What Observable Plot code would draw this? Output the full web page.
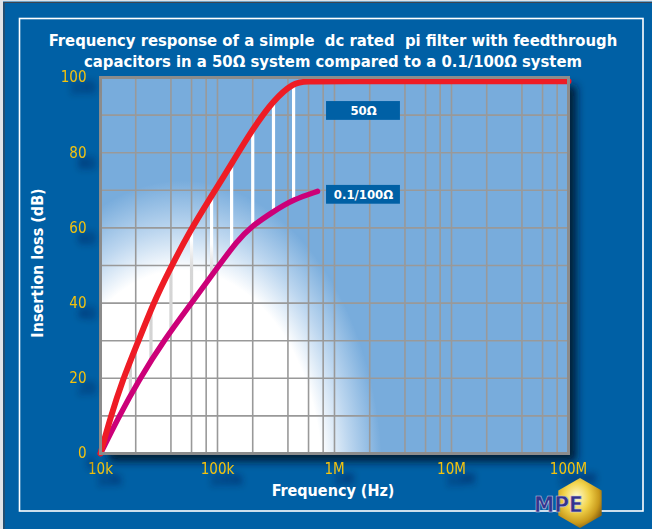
<!DOCTYPE html>
<html>
<head>
<meta charset="utf-8">
<script src="https://cdn.jsdelivr.net/npm/d3@7"></script>
<script src="https://cdn.jsdelivr.net/npm/@observablehq/plot@0.6"></script>
<style>
  html, body { margin: 0; padding: 0; background: #0060a5; }
  #wrap { position: relative; width: 652px; height: 529px; overflow: hidden; background: #0060a5;
          font-family: "DejaVu Sans Condensed", "DejaVu Sans", sans-serif; }
  #wrap > svg { position: absolute; left: 0; top: 0; }
  #deco { pointer-events: none; }
</style>
</head>
<body>
<div id="wrap"></div>
<script>
// ---------- data ----------
const titleLines = [
  "Frequency response of a simple  dc rated  pi filter with feedthrough",
  "capacitors in a 50\u03A9 system compared to a 0.1/100\u03A9 system"
];
const xTitle = "Frequency (Hz)";
const yTitle = "Insertion loss (dB)";

const xTicks = [1e4, 1e5, 1e6, 1e7, 1e8];
const xTickLabels = ["10k", "100k", "1M", "10M", "100M"];
const yTicks = [0, 20, 40, 60, 80, 100];
const xGrid = [2e4, 4e4, 6e4, 8e4, 1e5, 2e5, 4e5, 6e5, 8e5, 1e6, 2e6, 4e6, 6e6, 8e6, 1e7, 2e7, 4e7, 6e7, 8e7];
const yGrid = [10, 20, 30, 40, 50, 60, 70, 80, 90];

// 50 ohm system (red)
const freq50 = [1e4, 1.218e4, 1.542e4, 2.113e4, 2.838e4, 3.738e4, 5.878e4, 8.71e4, 1.344e5, 1.991e5, 3.01e5, 4.464e5, 5.65e5, 1e6, 1e7, 1e8];
const loss50 = [0, 9.6, 19.5, 30, 40, 47.8, 59.5, 68, 77.5, 86.2, 94, 98.6, 99, 99, 99, 99];

// 0.1/100 ohm system (magenta)
const freq100 = [1e4, 1.425e4, 2.113e4, 3.456e4, 6.237e4, 1e5, 1.482e5, 1.877e5, 3.01e5, 4.464e5, 7.155e5];
const loss100 = [0, 9.65, 19.4, 30, 40.7, 49.5, 56.6, 60, 64.4, 67.6, 69.7];

// white hatch lines between the curves
const hatchFreq = [1.8e4, 2.7e4, 4.0e4, 6.0e4, 8.9e4, 1.32e5, 2.0e5, 3.01e5, 4.47e5];
const hatchLow  = [15.5, 24.5, 32.5, 40, 47.3, 54.5, 60.5, 64.4, 67.6];
const hatchHigh = [24.7, 38, 49.3, 60, 68.4, 77, 86.2, 94, 98.6];

// series labels (boxed)
const labelNames = ["50\u03A9", "0.1/100\u03A9"];
const labelLoss = [91.1, 68.8];
const labelFreqLo = 8.55e5, labelFreqHi = 3.66e6, labelFreqMid = 1.77e6, labelHalf = 2.5;

// ---------- tables ----------
const red = freq50.map((f, i) => ({f, v: loss50[i]}));
const mag = freq100.map((f, i) => ({f, v: loss100[i]}));
const hatch = hatchFreq.map((f, i) => ({f, lo: hatchLow[i], hi: hatchHigh[i]}));
const labels = labelNames.map((n, i) => ({n, v: labelLoss[i]}));
const xLabelOf = new Map(xTicks.map((t, i) => [t, xTickLabels[i]]));

const FONT = "'DejaVu Sans Condensed', 'DejaVu Sans', sans-serif";
const TICK = "#f4c20d";

const plot = Plot.plot({
  width: 652, height: 529,
  marginLeft: 100, marginRight: 84, marginTop: 77, marginBottom: 76,
  style: {background: "transparent", fontFamily: FONT, overflow: "visible"},
  x: {type: "log", domain: [1e4, 1e8]},
  y: {domain: [0, 100]},
  marks: [
    Plot.frame({fill: "url(#bgGrad)"}),
    Plot.gridX(xGrid, {stroke: "#999", strokeOpacity: 1, strokeWidth: 1.6}),
    Plot.gridY(yGrid, {stroke: "#999", strokeOpacity: 1, strokeWidth: 1.6}),
    Plot.ruleX(hatch, {x: "f", y1: "lo", y2: "hi", stroke: "url(#hatchGrad)", strokeWidth: 3.2}),
    Plot.line(mag, {x: "f", y: "v", stroke: "#cc0078", strokeWidth: 5.5, curve: "basis", strokeLinecap: "round"}),
    Plot.line(red, {x: "f", y: "v", stroke: "#ee1c25", strokeWidth: 6, curve: "basis", strokeLinecap: "round"}),
    Plot.frame({stroke: "#8c8c8c", strokeWidth: 3}),
    Plot.rect(labels, {x1: () => labelFreqLo, x2: () => labelFreqHi, y1: d => d.v - labelHalf, y2: d => d.v + labelHalf, fill: "#0060a5"}),
    Plot.text(labels, {x: () => labelFreqMid, y: "v", text: "n", fill: "white", fontWeight: "bold", fontSize: 13}),
    Plot.axisX(xTicks, {tickSize: 0, tickPadding: 10, tickFormat: d => xLabelOf.get(d), fill: TICK, fontSize: 15, label: null}),
    Plot.axisY(yTicks, {tickSize: 0, tickPadding: 14, fill: TICK, fontSize: 15, label: null})
  ]
});

const wrap = document.getElementById("wrap");

// decoration layer (behind the plot)
const deco = d3.create("svg").attr("id", "deco").attr("width", 652).attr("height", 529);
deco.append("rect").attr("x", 0).attr("y", 0).attr("width", 3).attr("height", 529).attr("fill", "#dfe3e8");
deco.append("rect").attr("x", 0).attr("y", 0).attr("width", 652).attr("height", 1.5).attr("fill", "#dfe3e8");
deco.append("line").attr("x1", 4).attr("x2", 4).attr("y1", 2).attr("y2", 529).attr("stroke", "#3b4450").attr("stroke-width", 1.2);
deco.append("line").attr("x1", 4).attr("x2", 652).attr("y1", 2.5).attr("y2", 2.5).attr("stroke", "#3b4450").attr("stroke-width", 1.2);
deco.append("rect").attr("x", 19.5).attr("y", 18.5).attr("width", 623.5).attr("height", 492.5)
  .attr("fill", "none").attr("stroke", "white").attr("stroke-width", 1.6);
wrap.appendChild(deco.node());
wrap.appendChild(plot);

// gradients & filters
const svg = d3.select(plot);
const defs = svg.insert("defs", ":first-child");
const GT = "translate(182,480) scale(200,300)";
const bg = defs.append("radialGradient").attr("id", "bgGrad").attr("gradientUnits", "userSpaceOnUse")
  .attr("cx", 0).attr("cy", 0).attr("r", 1).attr("gradientTransform", GT);
bg.append("stop").attr("offset", 0).attr("stop-color", "#ffffff");
bg.append("stop").attr("offset", 0.7).attr("stop-color", "#ffffff");
bg.append("stop").attr("offset", 0.84).attr("stop-color", "#bcd6ef");
bg.append("stop").attr("offset", 1).attr("stop-color", "#78acdc");
const hg = defs.append("radialGradient").attr("id", "hatchGrad").attr("gradientUnits", "userSpaceOnUse")
  .attr("cx", 0).attr("cy", 0).attr("r", 1).attr("gradientTransform", GT);
hg.append("stop").attr("offset", 0).attr("stop-color", "#cdcdcd");
hg.append("stop").attr("offset", 0.7).attr("stop-color", "#d6d6d6");
hg.append("stop").attr("offset", 0.8).attr("stop-color", "#ffffff");
hg.append("stop").attr("offset", 1).attr("stop-color", "#ffffff");
const fs = defs.append("filter").attr("id", "frameShadow").attr("x", "-10%").attr("y", "-10%").attr("width", "130%").attr("height", "130%");
fs.append("feDropShadow").attr("dx", 8).attr("dy", 8).attr("stdDeviation", 4)
  .attr("flood-color", "#00142e").attr("flood-opacity", 0.9);
const ts = defs.append("filter").attr("id", "textShadow").attr("x", "-50%").attr("y", "-50%").attr("width", "250%").attr("height", "250%");
ts.append("feDropShadow").attr("dx", 9).attr("dy", 11).attr("stdDeviation", 3.5)
  .attr("flood-color", "#001530").attr("flood-opacity", 0.75);
const gold = defs.append("radialGradient").attr("id", "gold").attr("cx", "42%").attr("cy", "38%").attr("r", "65%");
gold.append("stop").attr("offset", 0).attr("stop-color", "#fffbd0");
gold.append("stop").attr("offset", 0.45).attr("stop-color", "#f2d34a");
gold.append("stop").attr("offset", 0.8).attr("stop-color", "#c99a1c");
gold.append("stop").attr("offset", 1).attr("stop-color", "#8d6512");

const frames = plot.querySelectorAll('[aria-label="frame"]');
if (frames.length) frames[0].setAttribute("filter", "url(#frameShadow)");
plot.querySelectorAll('[aria-label="x-axis tick label"], [aria-label="y-axis tick label"]')
  .forEach(g => g.setAttribute("filter", "url(#textShadow)"));

// titles and logo (on top)
const texts = svg.append("g").attr("font-family", FONT).attr("fill", "white").attr("font-weight", "bold");
texts.append("text").attr("x", 333).attr("y", 46).attr("text-anchor", "middle").attr("font-size", 16.5)
  .style("white-space", "pre").text(titleLines[0]);
texts.append("text").attr("x", 333).attr("y", 67).attr("text-anchor", "middle").attr("font-size", 16.5)
  .style("white-space", "pre").text(titleLines[1]);
texts.append("text").attr("x", 333).attr("y", 496).attr("text-anchor", "middle").attr("font-size", 16).text(xTitle);
texts.append("text").attr("transform", "translate(43,263) rotate(-90)").attr("text-anchor", "middle").attr("font-size", 16).text(yTitle);

const logo = svg.append("g");
logo.append("polygon").attr("transform", "translate(580,503)")
  .attr("points", "0,-25 21.7,-12.5 21.7,12.5 0,25 -21.7,12.5 -21.7,-12.5")
  .attr("fill", "url(#gold)");
logo.append("text").attr("x", 558.5).attr("y", 512).attr("text-anchor", "middle")
  .attr("font-family", "'DejaVu Sans', sans-serif").attr("font-weight", "bold").attr("font-size", 21)
  .attr("textLength", 49).attr("lengthAdjust", "spacingAndGlyphs")
  .attr("fill", "#34348c").attr("stroke", "#c8c8e0").attr("stroke-width", 0.6).text("MPE");
</script>
</body>
</html>
